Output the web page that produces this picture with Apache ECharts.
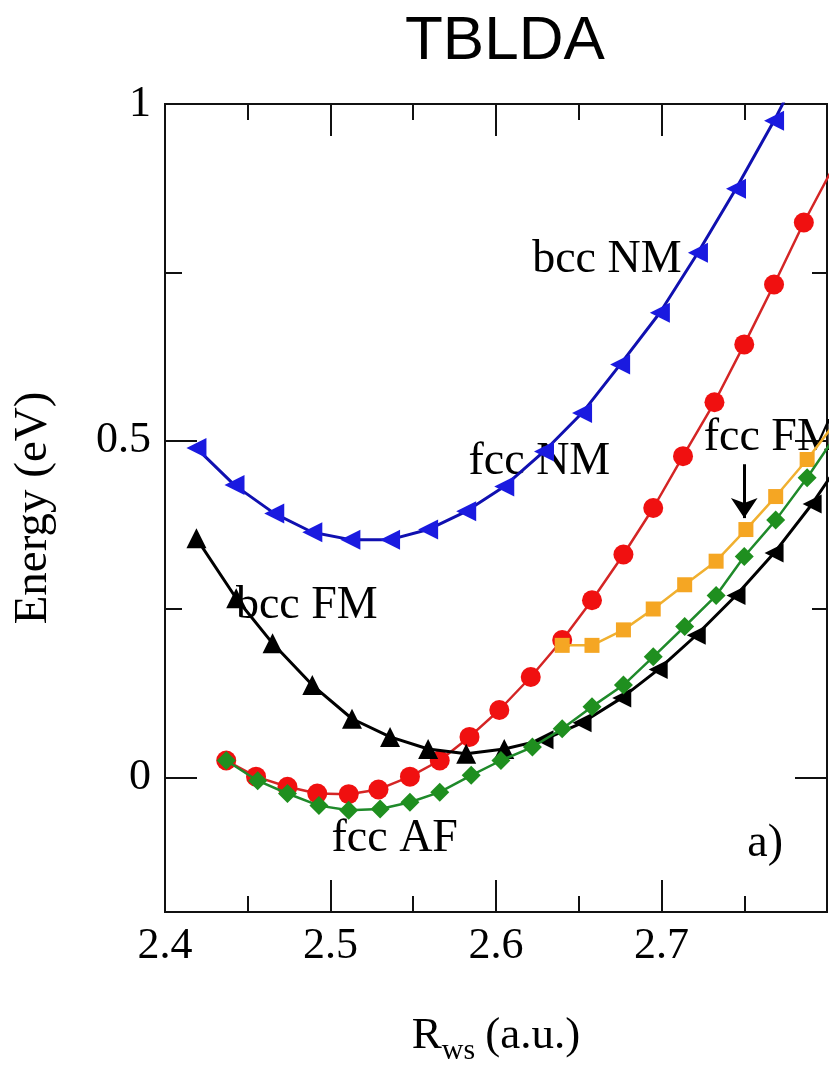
<!DOCTYPE html>
<html><head><meta charset="utf-8">
<script src="https://cdn.jsdelivr.net/npm/echarts@6/dist/echarts.min.js"></script>
<style>html,body{margin:0;padding:0;background:#fff}#c{width:829px;height:1067px}</style>
</head><body><div id="c"></div>
<script>
// ---- data (R_ws in a.u., Energy in eV) ----
const bccNM_x = [2.419,2.442,2.466,2.489,2.512,2.536,2.559,2.582,2.605,2.629,2.652,2.675,2.699,2.722,2.745,2.768,2.791];
const bccNM_y = [0.489,0.434,0.392,0.364,0.353,0.353,0.368,0.395,0.432,0.484,0.541,0.613,0.690,0.779,0.874,0.975,1.085];

const bccFM_x = [2.419,2.443,2.465,2.489,2.513,2.536,2.559,2.582,2.605];
const bccFM_y = [0.355,0.266,0.199,0.137,0.087,0.060,0.042,0.035,0.042];
const bccFMhi_x = [2.605,2.629,2.652,2.676,2.698,2.721,2.745,2.768,2.791,2.814];
const bccFMhi_y = [0.042,0.056,0.081,0.118,0.160,0.211,0.270,0.333,0.406,0.490];

const fccNM_x = [2.437,2.455,2.474,2.492,2.511,2.529,2.548,2.566,2.584,2.602,2.621,2.640,2.658,2.677,2.695,2.713,2.732,2.750,2.768,2.786,2.805];
const fccNM_y = [0.025,0.001,-0.014,-0.024,-0.025,-0.018,0.001,0.025,0.060,0.100,0.149,0.204,0.263,0.331,0.400,0.477,0.557,0.643,0.732,0.824,0.912];

const fccFM_x = [2.640,2.658,2.677,2.695,2.714,2.733,2.751,2.769,2.788,2.806];
const fccFM_y = [0.196,0.196,0.219,0.250,0.286,0.321,0.368,0.417,0.472,0.530];

const fccAF_x = [2.437,2.456,2.474,2.493,2.511,2.530,2.548,2.566,2.585,2.603,2.622,2.640,2.658,2.677,2.695,2.714,2.733,2.750,2.769,2.788,2.806];
const fccAF_y = [0.025,-0.005,-0.024,-0.042,-0.049,-0.047,-0.037,-0.022,0.003,0.025,0.045,0.072,0.105,0.137,0.179,0.224,0.270,0.328,0.382,0.445,0.510];

const xTicks = [2.4, 2.5, 2.6, 2.7];
const yMajorTicks = [0, 0.5, 1];
const yMinorTicks = [0.25, 0.75];

const zip = (xs, ys) => xs.map((x, i) => [x, ys[i]]);

const chart = echarts.init(document.getElementById('c'), null, {renderer: 'canvas'});
const SERIF = '"Liberation Serif", "Times New Roman", serif';

const baseX = {
  type: 'value', min: 2.4, max: 2.8, interval: 0.1,
  splitLine: {show: false},
  axisLine: {show: true, onZero: false, lineStyle: {color: '#111', width: 2}},
  axisTick: {show: true, inside: true, length: 32, lineStyle: {color: '#111', width: 2}},
  minorTick: {show: true, splitNumber: 2, length: 16, lineStyle: {color: '#111', width: 2}},
  minorSplitLine: {show: false}
};
const baseY = {
  type: 'value', min: -0.2, max: 1,
  splitLine: {show: false},
  axisLine: {show: true, onZero: false, lineStyle: {color: '#111', width: 2}},
  axisLabel: {show: false}
};

const option = {
  backgroundColor: '#fff',
  animation: false,
  title: {
    text: 'TBLDA', left: 400, top: 6,
    textStyle: {fontFamily: '"Liberation Sans", Arial, sans-serif', fontSize: 62, fontWeight: 'normal', color: '#000'}
  },
  grid: {left: 165, top: 104, right: 2, bottom: 155, containLabel: false, outerBoundsMode: 'none'},
  xAxis: [
    Object.assign({}, baseX, {
      position: 'bottom',
      name: '{r|R}{s|ws}   {r|(a.u.)}',
      nameLocation: 'middle', nameGap: 94,
      nameTextStyle: {
        rich: {
          r: {fontFamily: SERIF, fontSize: 45, color: '#000'},
          s: {fontFamily: SERIF, fontSize: 30, color: '#000', padding: [30, 0, 0, 0]}
        }
      },
      axisLabel: {show: true, margin: 12, fontFamily: SERIF, fontSize: 44, color: '#000', showMaxLabel: false,
        formatter: v => v.toFixed(1)}
    }),
    Object.assign({}, baseX, {position: 'top', axisLabel: {show: false}})
  ],
  yAxis: [
    Object.assign({}, baseY, {
      position: 'left',
      name: 'Energy (eV)', nameLocation: 'middle', nameGap: 108, nameRotate: 90,
      nameTextStyle: {fontFamily: SERIF, fontSize: 47, color: '#000'},
      axisLabel: {show: true, customValues: yMajorTicks, margin: 14, fontFamily: SERIF, fontSize: 44, color: '#000',
        formatter: v => String(v)},
      axisTick: {show: true, inside: true, length: 32, customValues: yMajorTicks, lineStyle: {color: '#111', width: 2}}
    }),
    Object.assign({}, baseY, {
      position: 'left',
      axisTick: {show: true, inside: true, length: 17, customValues: yMinorTicks, lineStyle: {color: '#111', width: 2}}
    }),
    Object.assign({}, baseY, {
      position: 'right',
      axisTick: {show: true, inside: true, length: 32, customValues: yMajorTicks, lineStyle: {color: '#111', width: 2}}
    }),
    Object.assign({}, baseY, {
      position: 'right',
      axisTick: {show: true, inside: true, length: 15, customValues: yMinorTicks, lineStyle: {color: '#111', width: 2}}
    })
  ],
  series: [
    {
      name: 'bcc NM', type: 'line', data: zip(bccNM_x, bccNM_y),
      symbol: 'triangle', symbolRotate: 90, symbolSize: 20,
      lineStyle: {color: '#1010b0', width: 3}, itemStyle: {color: '#1a1ae0'}, z: 3
    },
    {
      name: 'fcc NM', type: 'line', data: zip(fccNM_x, fccNM_y),
      symbol: 'circle', symbolSize: 20,
      lineStyle: {color: '#d42525', width: 2.5}, itemStyle: {color: '#f01010'}, z: 3
    },
    {
      name: 'fcc FM', type: 'line', data: zip(fccFM_x, fccFM_y),
      symbol: 'rect', symbolSize: 15,
      lineStyle: {color: '#f0b030', width: 2.5}, itemStyle: {color: '#f5a623'}, z: 4,
      markLine: {
        silent: true, symbol: ['none', 'arrow'], symbolSize: 20,
        label: {show: false},
        lineStyle: {color: '#000', width: 3, type: 'solid'},
        data: [[{coord: [2.75, 0.465]}, {coord: [2.75, 0.385]}]]
      }
    },
    {
      name: 'bcc FM', type: 'line', data: zip(bccFM_x, bccFM_y),
      symbol: 'triangle', symbolSize: 20,
      lineStyle: {color: '#000', width: 3}, itemStyle: {color: '#000'}, z: 5
    },
    {
      name: 'bcc FM (large R)', type: 'line',
      data: zip(bccFMhi_x, bccFMhi_y).map((p, i) => i === 0 ? {value: p, symbol: 'none'} : p),
      symbol: 'triangle', symbolRotate: 90, symbolSize: 19,
      lineStyle: {color: '#000', width: 3}, itemStyle: {color: '#000'}, z: 5
    },
    {
      name: 'fcc AF', type: 'line', data: zip(fccAF_x, fccAF_y),
      symbol: 'diamond', symbolSize: 19,
      lineStyle: {color: '#1f8a2a', width: 2.5}, itemStyle: {color: '#1f8f1f'}, z: 6
    }
  ]
};
chart.setOption(option);

// text annotations anchored in data coordinates
const notes = [
  {text: 'bcc NM', at: [2.667, 0.768], align: 'center'},
  {text: 'bcc FM', at: [2.4857, 0.255], align: 'center'},
  {text: 'fcc NM', at: [2.6262, 0.469], align: 'center'},
  {text: 'fcc FM', at: [2.7255, 0.504], align: 'left'},
  {text: 'fcc AF', at: [2.5388, -0.092], align: 'center'},
  {text: 'a)', at: [2.7626, -0.099], align: 'center'}
];
chart.setOption({
  graphic: notes.map(n => {
    const p = chart.convertToPixel({xAxisIndex: 0, yAxisIndex: 0}, n.at);
    return {
      type: 'text', x: p[0], y: p[1], z: 1, silent: true,
      style: {text: n.text, font: '46px ' + SERIF, fill: '#000', align: n.align, verticalAlign: 'middle',
        textAlign: n.align, textVerticalAlign: 'middle'}
    };
  })
});
</script></body></html>
